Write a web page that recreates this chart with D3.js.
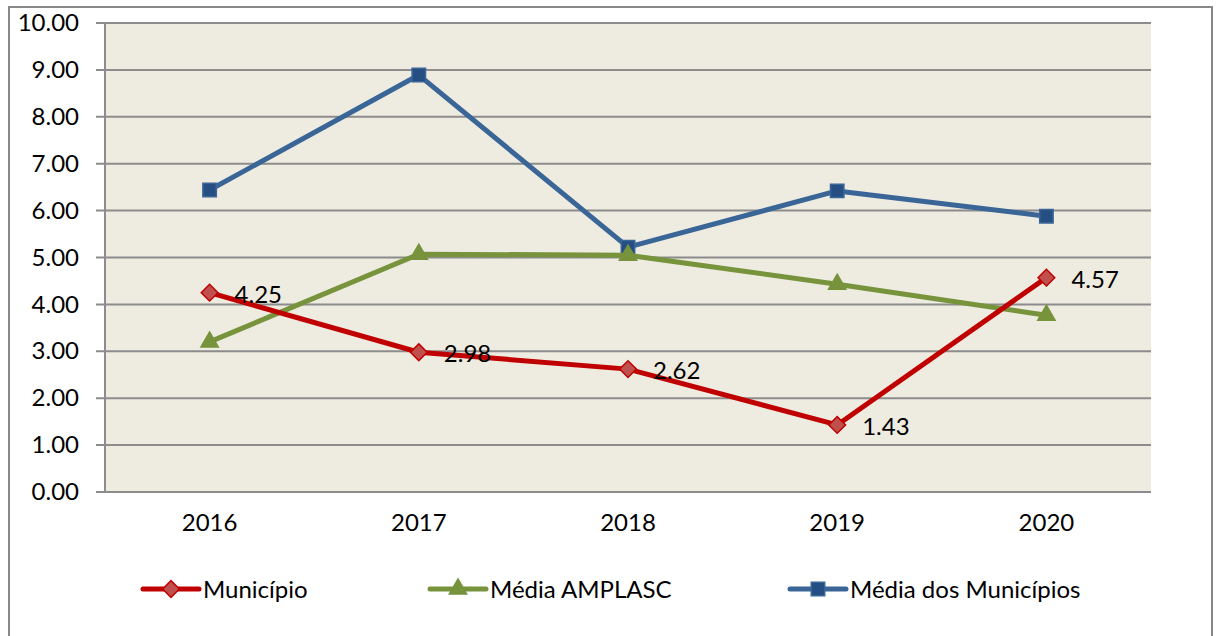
<!DOCTYPE html>
<html>
<head>
<meta charset="utf-8">
<script src="https://cdn.jsdelivr.net/npm/d3@7"></script>
<style>
  body { margin: 0; background: #fff; }
  text { font-family: Lato, "Open Sans", sans-serif; fill: #000; }
</style>
</head>
<body>
<div id="chart"></div>
<script>
// values
var years = ["2016", "2017", "2018", "2019", "2020"];
var municipio = [4.25, 2.98, 2.62, 1.43, 4.57];
var mediaAmplasc = [3.20, 5.07, 5.05, 4.43, 3.77];
var mediaMunicipios = [6.44, 8.89, 5.22, 6.42, 5.88];
var yTicks = [0, 1, 2, 3, 4, 5, 6, 7, 8, 9, 10];

var series = [
  {name: "Município", values: municipio, line: "#C00000", fill: "#C0504D", stroke: "#C00000", marker: "diamond", labels: true, lx: 143},
  {name: "Média AMPLASC", values: mediaAmplasc, line: "#77933C", fill: "#77933C", stroke: "#77933C", marker: "triangle", labels: false, lx: 430},
  {name: "Média dos Municípios", values: mediaMunicipios, line: "#3A6597", fill: "#254F83", stroke: "#3A6597", marker: "square", labels: false, lx: 790}
];

var W = 1216, H = 636;
var margin = {top: 23, right: 65, bottom: 144, left: 105},
    width = W - margin.left - margin.right,
    height = H - margin.top - margin.bottom;

var root = d3.select("#chart").append("svg")
    .attr("width", W)
    .attr("height", H);

// outer chart frame
root.append("rect")
    .attr("x", 9).attr("y", 7)
    .attr("width", 1203).attr("height", 640)
    .attr("fill", "#fff")
    .attr("stroke", "#888").attr("stroke-width", 2);

var svg = root.append("g")
    .attr("transform", "translate(" + margin.left + "," + margin.top + ")");

var x = d3.scaleBand().domain(years).range([0, width]);
var y = d3.scaleLinear().domain([0, 10]).range([height, 0]);

svg.append("rect")
    .attr("width", width).attr("height", height)
    .attr("fill", "#EEEBE0");

// gridlines
svg.selectAll(".grid")
  .data(yTicks)
  .enter().append("line")
    .attr("x1", -9).attr("x2", width)
    .attr("y1", function(d) { return y(d); })
    .attr("y2", function(d) { return y(d); })
    .attr("stroke", "#8C8C8C").attr("stroke-width", 2);

// y axis
var yAxis = svg.append("g")
    .call(d3.axisLeft(y).tickValues(yTicks).tickFormat(d3.format(".2f")).tickSize(0).tickPadding(26));
yAxis.select(".domain").remove();
yAxis.selectAll("text").style("font-size", "24px");
svg.append("line")
    .attr("x1", 0).attr("x2", 0).attr("y1", 0).attr("y2", height)
    .attr("stroke", "#8C8C8C").attr("stroke-width", 2);

// x axis
var xAxis = svg.append("g")
    .attr("transform", "translate(0," + height + ")")
    .call(d3.axisBottom(x).tickSize(0).tickPadding(22));
xAxis.select(".domain").remove();
xAxis.selectAll("text").style("font-size", "24px");

function cx(i) { return x(years[i]) + x.bandwidth() / 2; }

var symbols = {
  diamond: d3.symbol().type(d3.symbolSquare).size(140),
  triangle: d3.symbol().type(d3.symbolTriangle).size(130),
  square: d3.symbol().type(d3.symbolSquare).size(180)
};

function drawMarker(g, s, px, py) {
  g.append("path")
    .attr("d", symbols[s.marker]())
    .attr("transform", "translate(" + px + "," + py + ")" + (s.marker === "diamond" ? " rotate(45)" : ""))
    .attr("fill", s.fill)
    .attr("stroke", s.stroke)
    .attr("stroke-width", 1.5);
}

var line = d3.line()
    .x(function(d, i) { return cx(i); })
    .y(function(d) { return y(d); });

// draw last series first so Município ends on top
series.slice().reverse().forEach(function(s) {
  svg.append("path")
      .datum(s.values)
      .attr("d", line)
      .attr("fill", "none")
      .attr("stroke", s.line)
      .attr("stroke-width", 5)
      .attr("stroke-linejoin", "round");
  s.values.forEach(function(v, i) { drawMarker(svg, s, cx(i), y(v)); });
  if (s.labels) {
    svg.selectAll(".lbl")
      .data(s.values)
      .enter().append("text")
        .attr("x", function(d, i) { return cx(i) + 25; })
        .attr("y", function(d) { return y(d) + 10; })
        .style("font-size", "24px")
        .text(function(d) { return d.toFixed(2); });
  }
});

// legend
var legend = root.append("g").attr("transform", "translate(0,589)");
series.forEach(function(s) {
  legend.append("line")
      .attr("x1", s.lx).attr("x2", s.lx + 56)
      .attr("stroke", s.line).attr("stroke-width", 5)
      .attr("stroke-linecap", "round");
  drawMarker(legend, s, s.lx + 28, 0);
  legend.append("text")
      .attr("x", s.lx + 60).attr("y", 9)
      .style("font-size", "24px")
      .text(s.name);
});
</script>
</body>
</html>
